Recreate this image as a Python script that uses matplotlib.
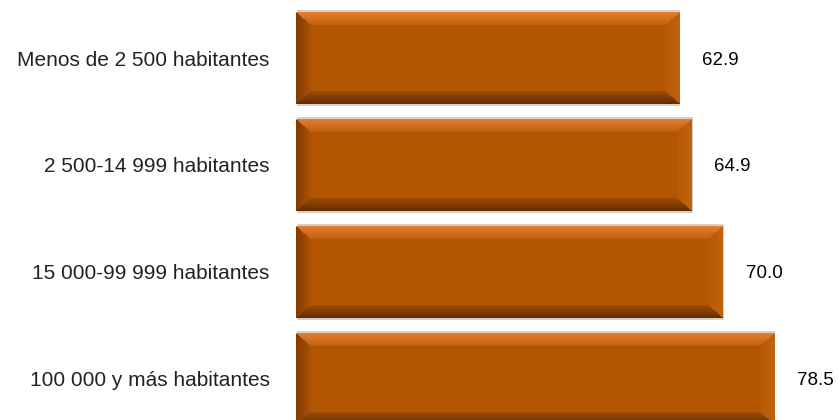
import numpy as np
import matplotlib
matplotlib.use('Agg')
import matplotlib.pyplot as plt
from matplotlib.patches import Rectangle

plt.rcParams['font.family'] = ['Liberation Sans', 'DejaVu Sans']

categorias = ['Menos de 2 500 habitantes', '2 500-14 999 habitantes',
              '15 000-99 999 habitantes', '100 000 y más habitantes']
valores = [62.9, 64.9, 70.0, 78.5]
etiquetas = ['62.9', '64.9', '70.0', '78.5']

W, H, DPI = 838, 420, 100
cara = np.array([179, 86, 2]) / 255.0

def bevel_img(wpx, hpx, bx=15, by=13):
    # colour per pixel for a bevelled (button-like) bar
    jj, ii = np.meshgrid(np.arange(wpx), np.arange(hpx))
    dt = ii / by
    db = (hpx - 1 - ii) / by
    dl = jj / bx
    dr = (wpx - 1 - jj) / bx
    d = np.stack([dt, db, dl, dr])
    k = np.argmin(d, axis=0)
    m = np.min(d, axis=0)
    img = np.ones((hpx, wpx, 3)) * cara
    lados = {
        0: (np.array([226, 126, 46]), np.array([192, 95, 12])),    # arriba
        1: (np.array([100, 46, 2]), np.array([162, 77, 0])),       # abajo
        2: (np.array([132, 58, 0]), np.array([174, 83, 2])),       # izquierda
        3: (np.array([194, 98, 16]), np.array([182, 88, 4])),      # derecha
    }
    for lado, (c0, c1) in lados.items():
        sel = (k == lado) & (m < 1)
        t = np.clip(m[sel], 0, 1)[:, None]
        img[sel] = (c0 * (1 - t) + c1 * t) / 255.0
    return img

fig = plt.figure(figsize=(W / DPI, H / DPI), dpi=DPI)
ax = fig.add_axes([296 / W, -12 / H, 518 / W, 427.4 / H])
ax.set_xlim(0, 85)
ax.set_ylim(3.5, -0.5)
for s in ax.spines.values():
    s.set_visible(False)
ax.set_xticks([])

y = np.arange(len(categorias))
barras = ax.barh(y, valores, height=0.86, color='none', edgecolor='none')

ax.set_yticks(y)
ax.set_yticklabels(categorias, fontsize=15, color='#222222')
ax.tick_params(axis='y', length=0, pad=19)

for b, txt in zip(barras, etiquetas):
    x0, y0 = b.get_x(), b.get_y()
    bw, bh = b.get_width(), b.get_height()
    p0 = ax.transData.transform((x0, y0))
    p1 = ax.transData.transform((x0 + bw, y0 + bh))
    wpx = int(round(abs(p1[0] - p0[0])))
    hpx = int(round(abs(p1[1] - p0[1])))
    # sombra tenue alrededor
    sx = bw / wpx
    sy = bh / hpx
    ax.add_patch(Rectangle((x0 + sx, y0 - 2 * sy), bw, bh + 4 * sy,
                           facecolor='#d6d0ca', edgecolor='none', zorder=1))
    ax.imshow(bevel_img(wpx, hpx), extent=(x0, x0 + bw, y0 + bh, y0),
              aspect='auto', interpolation='nearest', zorder=2)
    ax.annotate(txt, (x0 + bw, y0 + bh / 2), xytext=(16.5, -1.5),
                textcoords='offset points', va='center', ha='left',
                fontsize=13.5, color='black')

ax.set_xlim(0, 85)
ax.set_ylim(3.5, -0.5)
fig.savefig('out.png', dpi=DPI)
